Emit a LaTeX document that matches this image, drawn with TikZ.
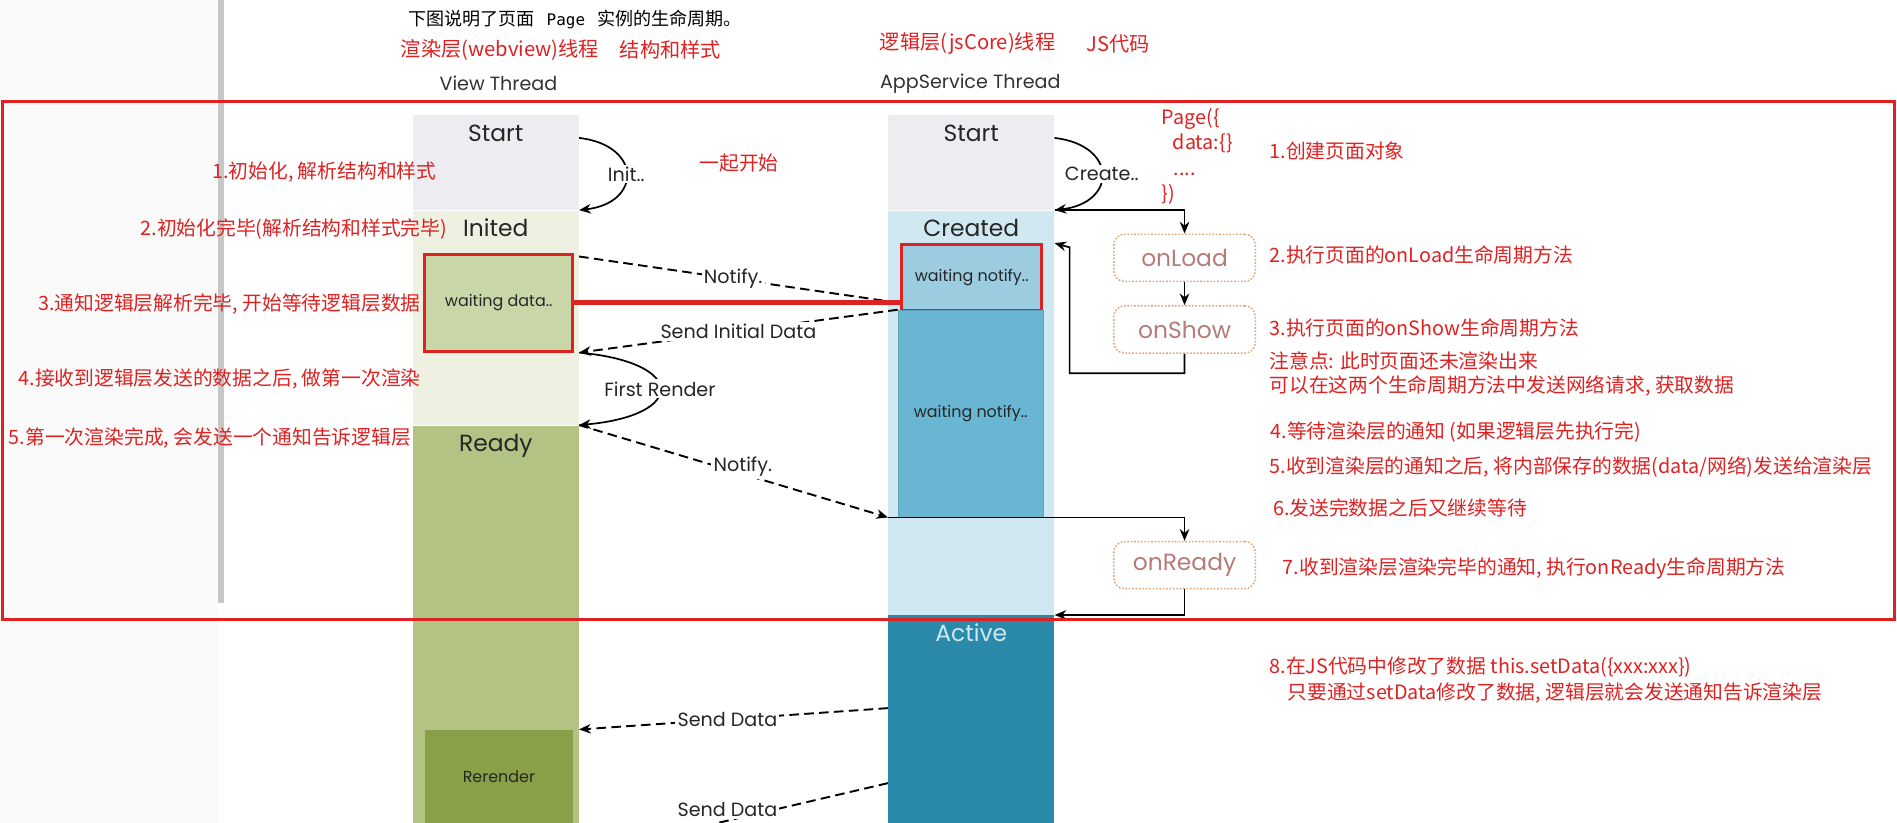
\documentclass[tikz,border=0pt]{standalone}
\usepackage{fontspec}
\setmainfont{Noto Sans CJK SC}
\newfontfamily\gothic{Poppins}
\newfontfamily\mono{DejaVu Sans Mono}
\usepackage{tikz}
\usetikzlibrary{positioning, arrows.meta}

\definecolor{rosso}{HTML}{DD2222}
\definecolor{grigiostart}{HTML}{EDECF1}
\definecolor{verdechiaro}{HTML}{EEF0E1}
\definecolor{verdeattesa}{HTML}{C9D6A8}
\definecolor{verdeready}{HTML}{B3C384}
\definecolor{verdescuro}{HTML}{88A047}
\definecolor{azzurrochiaro}{HTML}{CFE8F1}
\definecolor{azzurroattesa}{HTML}{9BCCE0}
\definecolor{azzurro}{HTML}{69B6D3}
\definecolor{blu}{HTML}{2B89A9}
\definecolor{bordohook}{HTML}{DDA77A}
\definecolor{testohook}{HTML}{B67B7B}

\begin{document}
\begin{tikzpicture}[
        % un'unita' = un pixel dello schema, y verso il basso
        x=0.02cm, y=-0.02cm,
        >={Stealth[length=5.5pt, width=4.5pt]},
        % segmenti delle due colonne
        seg/.style={anchor=north west, inner sep=0, minimum width=2.74cm},
        % nome dello stato in cima al segmento
        lbl/.style={anchor=base, yshift=-0.44cm, text=black!85, font=\gothic\fontsize{11}{13}\selectfont},
        % riquadri interni (waiting.., Rerender)
        attesa/.style={anchor=north west, inner sep=0, text=black!85, font=\gothic\fontsize{7.5}{9}\selectfont},
        evid/.style={draw=rosso, line width=1.4pt},
        % metodi del ciclo di vita
        hook/.style={draw=bordohook, dash pattern=on 0.8pt off 0.8pt, line width=0.7pt, rounded corners=5pt,
            minimum width=2.34cm, minimum height=0.78cm, inner sep=0, text=testohook, font=\gothic\fontsize{11}{13}\selectfont},
        % testi sulle frecce
        msg/.style={fill=white, inner sep=1pt, text=black!85, font=\gothic\fontsize{9}{11}\selectfont},
        % note rosse
        nota/.style={inner sep=0, text=rosso, font=\fontsize{9.3}{11}\selectfont},
        tratt/.style={line width=0.9pt, dash pattern=on 4.5pt off 2.5pt},
        freccia/.style={line width=0.8pt}
    ]

    % Sfondo
    \useasboundingbox (0,0) rectangle (1568,680);
    \fill[white] (0,0) rectangle (1568,680);
    \fill[black!2] (0,0) rectangle (181,680);
    \fill[black!22] (180,0) rectangle (185,498);

    % Titoli
    \node[anchor=west, inner sep=0, font=\fontsize{8.5}{10}\selectfont] (titolo) at (337,16)
        {下图说明了页面\hspace{0.2cm}{\mono\fontsize{7.5}{9}\selectfont Page}\hspace{0.2cm}实例的生命周期。};
    \node[nota, anchor=west, font=\fontsize{9.5}{11}\selectfont] (renderlayer) at (331,41) {渲染层(webview)线程};
    \node[nota, anchor=west, font=\fontsize{9.5}{11}\selectfont] (struttura) at (512,41) {结构和样式};
    \node[nota, anchor=west, font=\fontsize{9.5}{11}\selectfont] (logiclayer) at (727,36) {逻辑层(jsCore)线程};
    \node[nota, anchor=west, font=\fontsize{9.5}{11}\selectfont] (jscode) at (898,36) {JS代码};
    \node[text=black!80, font=\gothic\fontsize{9}{11}\selectfont] (vthread) at (412,69) {View Thread};
    \node[text=black!80, font=\gothic\fontsize{9}{11}\selectfont] (athread) at (802,69) {AppService Thread};

    % Colonna View Thread
    \node[seg, fill=grigiostart, minimum height=1.56cm, label={[lbl]north:Start}] (vstart) at (341,95) {};
    \node[seg, fill=verdechiaro, minimum height=3.54cm, label={[lbl]north:Inited}] (vinit) at (vstart.south west) {};
    \node[seg, fill=verdeready, minimum height=7.1cm, label={[lbl]north:Ready}] (vready) at (vinit.south west) {};
    \node[attesa, fill=verdeattesa, evid, minimum width=2.44cm, minimum height=1.6cm] (vwait) at (350,209) {waiting data..};
    \node[attesa, fill=verdescuro, minimum width=2.44cm, minimum height=1.56cm] (vrerender) at (351,603) {Rerender};

    % Colonna AppService Thread
    \node[seg, fill=grigiostart, minimum height=1.56cm, label={[lbl]north:Start}] (astart) at (734,95) {};
    \node[seg, fill=azzurrochiaro, minimum height=6.68cm, label={[lbl]north:Created}] (acreated) at (astart.south west) {};
    \node[seg, fill=blu, minimum height=3.96cm, label={[lbl, text=azzurrochiaro]north:Active}] (aactive) at (acreated.south west) {};
    \node[attesa, fill=azzurroattesa, evid, minimum width=2.32cm, minimum height=1.08cm] (anotify) at (744,201) {waiting notify..};
    \node[attesa, fill=azzurro, draw=azzurro!88!black, line width=0.4pt, minimum width=2.4cm, minimum height=3.42cm] (awaitbig) at (742,256) {waiting notify..};

    % Metodi
    \node[hook, anchor=north west] (onload) at (920,193) {onLoad};
    \node[hook, below=0.38cm of onload] (onshow) {onShow};
    \node[hook, anchor=north west] (onready) at (920,447) {onReady};

    % Frecce e testi
    \draw[->, freccia] ([yshift=-0.38cm]vstart.north east) .. controls +(52,6) and +(52,-6) .. (vinit.north east)
        node[msg, pos=0.5]{Init..};
    \draw[->, freccia] ([yshift=-0.38cm]astart.north east) .. controls +(52,6) and +(52,-6) .. (acreated.north east)
        node[msg, pos=0.5]{Create..};
    \draw[->, freccia] (acreated.north east) -| (onload.north);
    \draw[->, freccia] (onload) -- (onshow);
    \draw[->, freccia] (onshow.south) -- ++(0,16) -| ++(-95,-104) -- (acreated.east |- anotify.north);

    \draw[tratt] ([yshift=-0.06cm]vinit.east |- vwait.north) -- ([yshift=0.14cm]anotify.south west)
        node[msg, pos=0.48]{Notify.};
    \draw[rosso, line width=2.4pt] (vwait.east) -- (vwait.east -| anotify.west);
    \draw[->, tratt] (awaitbig.north west) -- (vinit.east |- vwait.south)
        node[msg, pos=0.5]{Send Initial Data};
    \draw[->, freccia] (vinit.east |- vwait.south) .. controls +(89,8) and +(89,-8) .. (vready.north east)
        node[msg, pos=0.5]{First Render};
    \draw[->, tratt] (vready.north east) -- (acreated.west |- awaitbig.south)
        node[msg, pos=0.53, yshift=0.12cm]{Notify.};
    \draw[->, freccia] (acreated.west |- awaitbig.south) -| (onready.north);
    \draw[->, freccia] (onready.south) |- (aactive.north east);
    \draw[->, tratt] ([yshift=-1.54cm]aactive.north west) -- (vready.east |- vrerender.north)
        node[msg, pos=0.52]{Send Data};
    \draw[->, tratt] ([yshift=-2.78cm]aactive.north west) -- (vready.south east)
        node[msg, pos=0.52, yshift=0.18cm]{Send Data};

    % Riquadro rosso
    \draw[rosso, line width=1.2pt] (2,84) rectangle (1566,512);

    % Note a sinistra
    \node[nota, anchor=east] (n1) at (361,142) {1.初始化, 解析结构和样式};
    \node[nota, anchor=east] (n2) at (370,189) {2.初始化完毕(解析结构和样式完毕)};
    \node[nota, anchor=east] (n3) at (348,251) {3.通知逻辑层解析完毕, 开始等待逻辑层数据};
    \node[nota, anchor=east] (n4) at (348,313) {4.接收到逻辑层发送的数据之后, 做第一次渲染};
    \node[nota, anchor=east] (n5) at (340,362) {5.第一次渲染完成, 会发送一个通知告诉逻辑层};
    \node[nota] (insieme) at (611,135) {一起开始};

    % Note a destra
    \node[nota, anchor=north west, align=left, font=\fontsize{9.3}{12}\selectfont] (pagecode) at (960,89)
        {Page(\{\\\hspace*{0.18cm}data:\{\}\\\hspace*{0.2cm}....\\\})};
    \node[nota, anchor=west] (m1) at (1049,125) {1.创建页面对象};
    \node[nota, anchor=west] (m2) at (1049,211) {2.执行页面的onLoad生命周期方法};
    \node[nota, anchor=west] (m3) at (1049,271) {3.执行页面的onShow生命周期方法};
    \node[nota, anchor=west] (m3b) at (1049,298) {注意点: 此时页面还未渲染出来};
    \node[nota, anchor=west] (m3c) at (1049,319) {可以在这两个生命周期方法中发送网络请求, 获取数据};
    \node[nota, anchor=west] (m4) at (1050,357) {4.等待渲染层的通知 (如果逻辑层先执行完)};
    \node[nota, anchor=west] (m5) at (1049,386) {5.收到渲染层的通知之后, 将内部保存的数据(data/网络)发送给渲染层};
    \node[nota, anchor=west] (m6) at (1052,420) {6.发送完数据之后又继续等待};
    \node[nota, anchor=west] (m7) at (1060,470) {7.收到渲染层渲染完毕的通知, 执行onReady生命周期方法};
    \node[nota, anchor=west] (m8) at (1049,551) {8.在JS代码中修改了数据 this.setData(\{xxx:xxx\})};
    \node[nota, anchor=west] (m8b) at (1064,573) {只要通过setData修改了数据, 逻辑层就会发送通知告诉渲染层};

\end{tikzpicture}
\end{document}
